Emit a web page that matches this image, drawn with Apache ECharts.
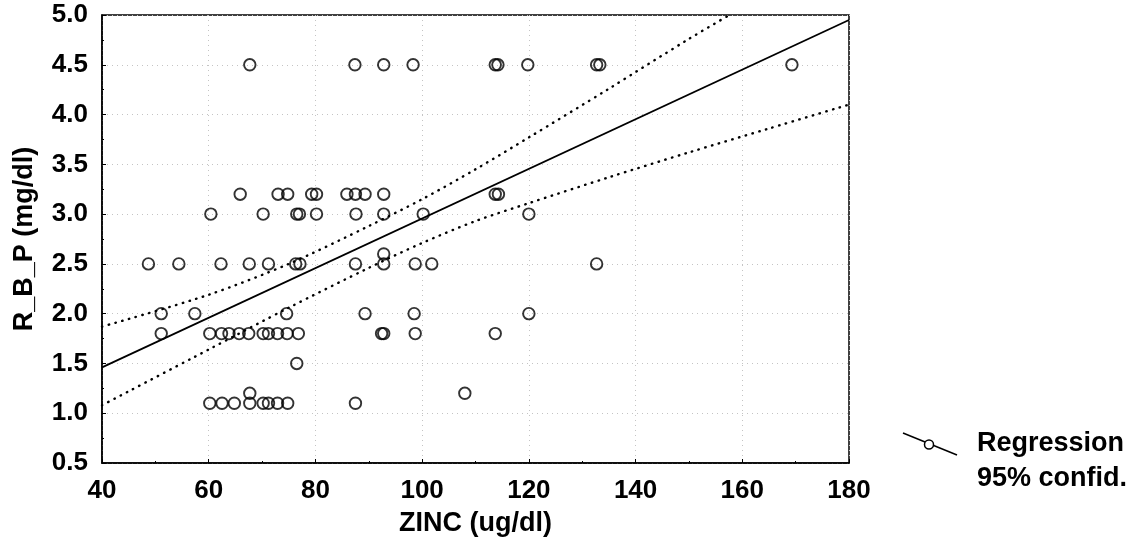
<!DOCTYPE html>
<html>
<head>
<meta charset="utf-8">
<style>
html,body{margin:0;padding:0;background:#fff;}
#chart{width:1139px;height:558px;}
</style>
<script src="https://cdn.jsdelivr.net/npm/echarts@6/dist/echarts.min.js"></script>
</head>
<body>
<div id="chart"></div>
<script>
// ---- data ----
const zincValues = [
  67.7, 87.4, 92.8, 98.3, 113.7, 114.2, 119.8, 132.7, 133.3, 169.3,
  65.9, 73.0, 74.8, 79.3, 80.2, 85.9, 87.5, 89.3, 92.8, 113.7, 114.3,
  60.4, 70.2, 76.5, 77.0, 80.2, 87.6, 92.8, 100.2, 120.0,
  92.8,
  48.7, 54.4, 62.3, 67.6, 71.2, 76.3, 77.1, 87.5, 92.8, 98.7, 101.8, 132.7,
  51.1, 57.4, 74.6, 89.3, 98.5, 120.0,
  51.1, 60.2, 62.4, 63.8, 65.7, 67.5, 70.2, 71.2, 72.9, 74.7, 76.8, 92.4, 92.8, 98.7, 113.7,
  76.5,
  67.7, 108.0,
  60.2, 62.5, 64.8, 67.7, 70.2, 71.2, 72.9, 74.8, 87.5
];
const rbpValues = [
  4.5, 4.5, 4.5, 4.5, 4.5, 4.5, 4.5, 4.5, 4.5, 4.5,
  3.2, 3.2, 3.2, 3.2, 3.2, 3.2, 3.2, 3.2, 3.2, 3.2, 3.2,
  3.0, 3.0, 3.0, 3.0, 3.0, 3.0, 3.0, 3.0, 3.0,
  2.6,
  2.5, 2.5, 2.5, 2.5, 2.5, 2.5, 2.5, 2.5, 2.5, 2.5, 2.5, 2.5,
  2.0, 2.0, 2.0, 2.0, 2.0, 2.0,
  1.8, 1.8, 1.8, 1.8, 1.8, 1.8, 1.8, 1.8, 1.8, 1.8, 1.8, 1.8, 1.8, 1.8, 1.8,
  1.5,
  1.2, 1.2,
  1.1, 1.1, 1.1, 1.1, 1.1, 1.1, 1.1, 1.1, 1.1
];
// regression line (read end points)
const regX = [40, 180];
const regY = [1.46, 4.95];
// 95% confidence band
const upperX = [40, 60, 75, 90, 100, 110, 120, 135, 150, 157.6];
const upperY = [1.87, 2.19, 2.50, 2.88, 3.15, 3.45, 3.77, 4.26, 4.76, 5.0];
const lowerX = [40, 60, 75, 90, 100, 110, 120, 135, 150, 165, 180];
const lowerY = [1.08, 1.64, 2.06, 2.46, 2.71, 2.93, 3.11, 3.37, 3.62, 3.86, 4.10];
const xTicks = [40, 60, 80, 100, 120, 140, 160, 180];
const yTicks = [0.5, 1.0, 1.5, 2.0, 2.5, 3.0, 3.5, 4.0, 4.5, 5.0];

const zip = (a, b) => a.map((v, i) => [v, b[i]]);
const FONT = '"Liberation Sans", Arial, sans-serif';

const chart = echarts.init(document.getElementById('chart'), null, {renderer: 'canvas'});
const axisCommon = {
  axisLine: {show: true, lineStyle: {color: '#000', width: 1.5}},
  axisTick: {show: true, inside: true, length: 4, lineStyle: {color: '#000', width: 1}},
  minorTick: {show: true, splitNumber: 2, length: 2, lineStyle: {color: '#000'}},
  splitLine: {show: true, lineStyle: {color: '#c4c4c4', type: [1, 4], width: 1}},
  axisLabel: {color: '#000', fontFamily: FONT, fontWeight: 'bold', fontSize: 26},
  nameTextStyle: {color: '#000', fontFamily: FONT, fontWeight: 'bold', fontSize: 27}
};
const dotStyle = {color: '#000', width: 2.4, type: [0.5, 6.5], cap: 'round'};
chart.setOption({
  animation: false,
  backgroundColor: '#fff',
  grid: {left: 102, top: 15, right: 290, bottom: 95, show: true, borderColor: '#000', borderWidth: 1.5, backgroundColor: 'transparent'},
  xAxis: Object.assign({}, axisCommon, {
    type: 'value', min: xTicks[0], max: xTicks[xTicks.length - 1], interval: 20,
    name: 'ZINC (ug/dl)', nameLocation: 'middle', nameGap: 47,
    axisLabel: Object.assign({}, axisCommon.axisLabel, {margin: 15, formatter: v => String(v)})
  }),
  yAxis: Object.assign({}, axisCommon, {
    type: 'value', min: yTicks[0], max: yTicks[yTicks.length - 1], interval: 0.5,
    name: 'R_B_P (mg/dl)', nameLocation: 'middle', nameGap: 64, nameRotate: 90,
    axisLabel: Object.assign({}, axisCommon.axisLabel, {margin: 14, formatter: v => v.toFixed(1)})
  }),
  series: [
    {type: 'line', data: zip(upperX, upperY), smooth: 0.3, symbol: 'none', lineStyle: dotStyle, z: 3},
    {type: 'line', data: zip(lowerX, lowerY), smooth: 0.3, symbol: 'none', lineStyle: dotStyle, z: 3},
    {
      type: 'line', data: zip(regX, regY), symbol: 'none',
      lineStyle: {color: '#000', width: 1.8}, z: 4
    },
    {
      type: 'scatter', data: zip(zincValues, rbpValues), symbol: 'circle', symbolSize: 11.5,
      itemStyle: {color: 'rgba(255,255,255,0)', borderColor: '#000', borderWidth: 1.9}, z: 5
    }
  ],
  graphic: [
    {type: 'line', shape: {x1: 903, y1: 433, x2: 957, y2: 455}, style: {stroke: '#000', lineWidth: 1.5}},
    {type: 'circle', shape: {cx: 929, cy: 444.5, r: 4.5}, style: {fill: '#fff', stroke: '#000', lineWidth: 1.5}},
    {type: 'text', left: 977, top: 430, style: {text: 'Regression', fill: '#000', font: 'bold 27px ' + FONT}},
    {type: 'text', left: 977, top: 465, style: {text: '95% confid.', fill: '#000', font: 'bold 27px ' + FONT}}
  ]
});
</script>
</body>
</html>
